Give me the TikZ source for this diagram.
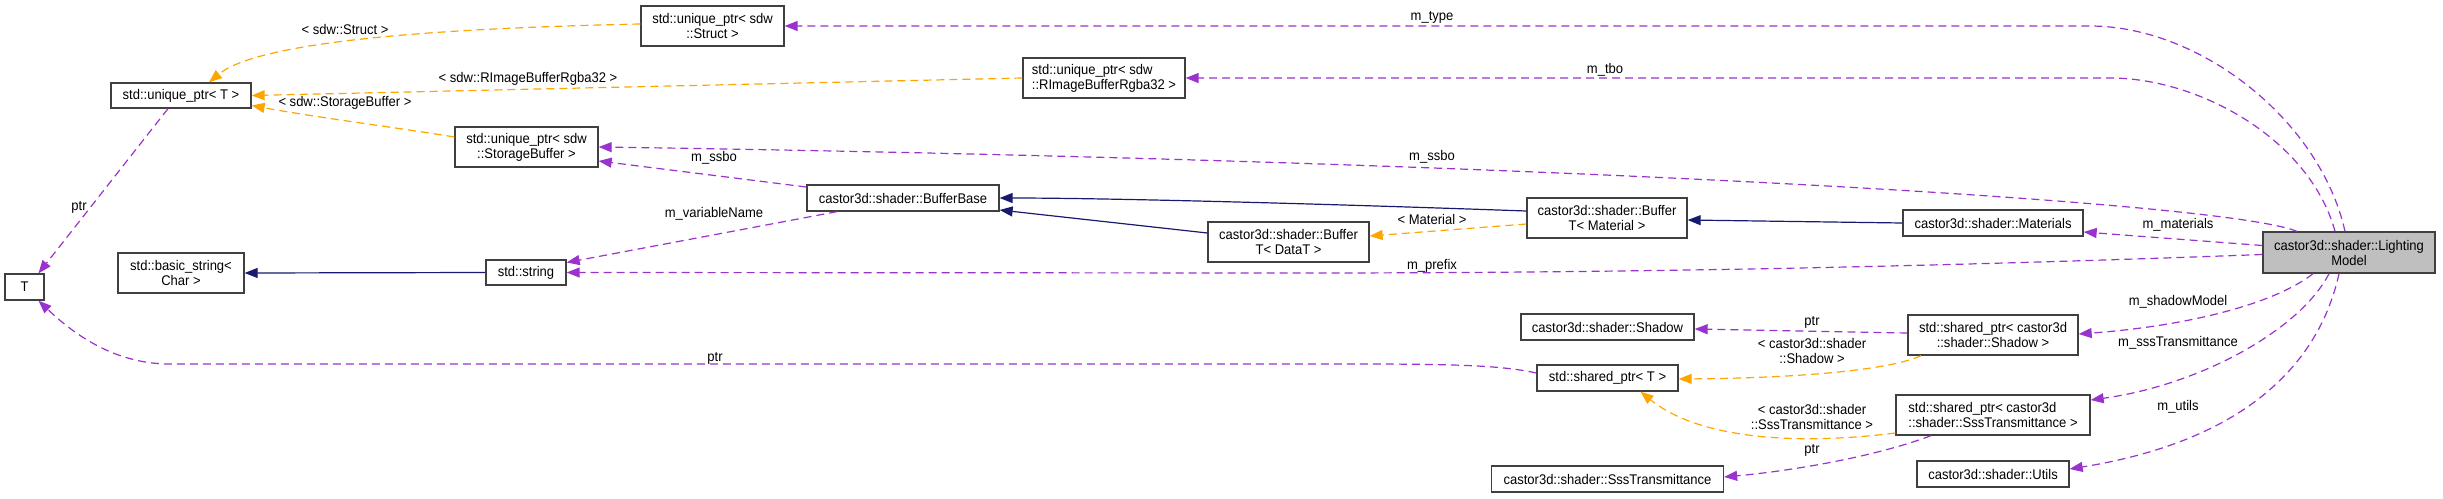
\documentclass[tikz,border=0pt]{standalone}
\usepackage{fontspec}
\setmainfont{Liberation Sans}[FakeStretch=0.93]
\usetikzlibrary{arrows.meta}
\definecolor{memcol}{HTML}{9A32CD}
\definecolor{tplcol}{HTML}{FFA500}
\definecolor{inhcol}{HTML}{191970}
\definecolor{boxline}{HTML}{404040}
\definecolor{boxfill}{HTML}{BFBFBF}
\begin{document}
\begin{tikzpicture}[x=1pt,y=-1pt,
  font=\fontsize{14}{15}\selectfont,
  cls/.style={draw=boxline,line width=1.3pt,fill=white,inner sep=0pt,align=center},
  lbl/.style={inner sep=0pt,align=center},
  member/.style={draw=memcol,line width=1.2pt,dash pattern=on 8pt off 5pt,-{Triangle[length=13pt,width=10pt]}},
  tmpl/.style={draw=tplcol,line width=1.2pt,dash pattern=on 8pt off 5pt,-{Triangle[length=13pt,width=10pt]}},
  inh/.style={draw=inhcol,line width=1.2pt,-{Triangle[length=13pt,width=10pt]}}]
\useasboundingbox (0,0) rectangle (2443,498);
% nodes
\node[cls,minimum width=143pt,minimum height=40pt] (Struct) at (712.5,26) {std::unique\_ptr< sdw\\::Struct >};
\node[cls,minimum width=140pt,minimum height=25pt] (UPT) at (181,95.5) {std::unique\_ptr< T >};
\node[cls,align=left,minimum width=162pt,minimum height=40pt] (RImage) at (1104,78) {std::unique\_ptr< sdw\\::RImageBufferRgba32 >};
\node[cls,minimum width=143pt,minimum height=40pt] (SBuf) at (526.5,147) {std::unique\_ptr< sdw\\::StorageBuffer >};
\node[cls,minimum width=192pt,minimum height=26pt] (BBase) at (903,198) {castor3d::shader::BufferBase};
\node[cls,minimum width=160pt,minimum height=40pt] (BMat) at (1607,218) {castor3d::shader::Buffer\\T< Material >};
\node[cls,minimum width=180pt,minimum height=26pt] (Mats) at (1993,223) {castor3d::shader::Materials};
\node[cls,fill=boxfill,minimum width=172pt,minimum height=41pt] (LM) at (2349,252.5) {castor3d::shader::Lighting\\Model};
\node[cls,minimum width=161pt,minimum height=40pt] (BData) at (1288.5,242) {castor3d::shader::Buffer\\T< DataT >};
\node[cls,minimum width=39pt,minimum height=26pt] (T) at (24.5,287) {T};
\node[cls,minimum width=126pt,minimum height=40pt] (BStr) at (181,273) {std::basic\_string<\\Char >};
\node[cls,minimum width=80pt,minimum height=25pt] (Str) at (526,272.5) {std::string};
\node[cls,minimum width=173pt,minimum height=26pt] (Shadow) at (1607.5,327) {castor3d::shader::Shadow};
\node[cls,minimum width=170pt,minimum height=40pt] (SPShadow) at (1993,335) {std::shared\_ptr< castor3d\\::shader::Shadow >};
\node[cls,minimum width=141pt,minimum height=26pt] (SPT) at (1607.5,378) {std::shared\_ptr< T >};
\node[cls,align=left,minimum width=194pt,minimum height=40pt] (SPSss) at (1993,415) {std::shared\_ptr< castor3d\\::shader::SssTransmittance >};
\node[cls,minimum width=232pt,minimum height=26pt] (Sss) at (1607.5,479) {castor3d::shader::SssTransmittance};
\node[cls,minimum width=152pt,minimum height=26pt] (Utils) at (1993,474) {castor3d::shader::Utils};
% inheritance
\draw[inh] (Str.west) -- (BStr.east);
\draw[inh] (Mats.west) -- ([yshift=-2pt]BMat.east);
\draw[inh] ([yshift=7pt]BMat.west) .. controls (1300,203) and (1100,198) .. (BBase.east);
\draw[inh] ([yshift=9pt]BData.west) -- ([yshift=-12pt]BBase.east);
% template instances
\draw[tmpl] ([yshift=2pt]Struct.west) .. controls (450,28) and (260,40) .. ([xshift=28pt]UPT.north);
\draw[tmpl] (RImage.west) -- (UPT.east);
\draw[tmpl] ([yshift=10pt]SBuf.west) .. controls (400,128) and (320,118) .. ([yshift=-10pt]UPT.east);
\draw[tmpl] ([yshift=-6pt]BMat.west) -- ([yshift=6pt]BData.east);
\draw[tmpl] ([xshift=-72pt]SPShadow.south) .. controls (1890,370) and (1800,378) .. ([yshift=-1pt]SPT.east);
\draw[tmpl] ([yshift=-18pt]SPSss.west) .. controls (1800,445) and (1700,440) .. ([xshift=33pt]SPT.south);
% members
\draw[member] ([xshift=-4pt]LM.north) .. controls (2320,120) and (2200,26) .. (2090,26) -- (Struct.east);
\draw[member] ([xshift=-14pt]LM.north) .. controls (2310,140) and (2200,78) .. (2110,78) -- (RImage.east);
\draw[member] ([xshift=-52pt]LM.north) .. controls (2220,200) and (1500,160) .. (SBuf.east);
\draw[member] ([yshift=7pt]LM.west) -- ([yshift=-9pt]Mats.east);
\draw[member] ([yshift=-2pt]LM.west) .. controls (1900,268) and (1600,273) .. (1300,273) -- (Str.east);
\draw[member] ([xshift=-36pt]LM.south) .. controls (2280,300) and (2200,325) .. ([yshift=1pt]SPShadow.east);
\draw[member] ([xshift=-20pt]LM.south) .. controls (2300,330) and (2200,385) .. ([yshift=15pt]SPSss.east);
\draw[member] ([xshift=-10pt]LM.south) .. controls (2320,360) and (2250,440) .. ([yshift=5pt]Utils.east);
\draw[member] ([yshift=2pt]SPShadow.west) -- ([yshift=-2pt]Shadow.east);
\draw[member] ([xshift=-62pt]SPSss.south) .. controls (1880,455) and (1800,470) .. ([yshift=2pt]Sss.east);
\draw[member] ([yshift=5pt]SPT.west) .. controls (1500,365) and (1450,364) .. (1350,364) -- (170,364) .. controls (120,364) and (80,340) .. ([xshift=14pt]T.south);
\draw[member] ([xshift=-13pt]UPT.south) -- ([xshift=14pt]T.north);
\draw[member] ([yshift=11pt]BBase.west) -- ([yshift=-14pt]SBuf.east);
\draw[member] ([xshift=-66pt]BBase.south) -- ([yshift=10pt]Str.east);
% labels
\node[lbl] (l1) at (1432,17) {m\_type};
\node[lbl] (l2) at (1605,70) {m\_tbo};
\node[lbl] (l3) at (1432,157) {m\_ssbo};
\node[lbl] (l4) at (1432,266) {m\_prefix};
\node[lbl] (l5) at (2178,225) {m\_materials};
\node[lbl] (l6) at (2178,302) {m\_shadowModel};
\node[lbl] (l7) at (2178,343) {m\_sssTransmittance};
\node[lbl] (l8) at (2178,407) {m\_utils};
\node[lbl] (l9) at (1812,322) {ptr};
\node[lbl] (l10) at (1812,351) {< castor3d::shader\\::Shadow >};
\node[lbl] (l11) at (1812,417) {< castor3d::shader\\::SssTransmittance >};
\node[lbl] (l12) at (1812,450) {ptr};
\node[lbl] (l13) at (715,358) {ptr};
\node[lbl] (l14) at (79,207) {ptr};
\node[lbl] (l15) at (345,29) {< sdw::Struct >};
\node[lbl] (l16) at (528,79) {< sdw::RImageBufferRgba32 >};
\node[lbl] (l17) at (345,103) {< sdw::StorageBuffer >};
\node[lbl] (l18) at (714,158) {m\_ssbo};
\node[lbl] (l19) at (714,214) {m\_variableName};
\node[lbl] (l20) at (1432,219) {< Material >};
\end{tikzpicture}
\end{document}
